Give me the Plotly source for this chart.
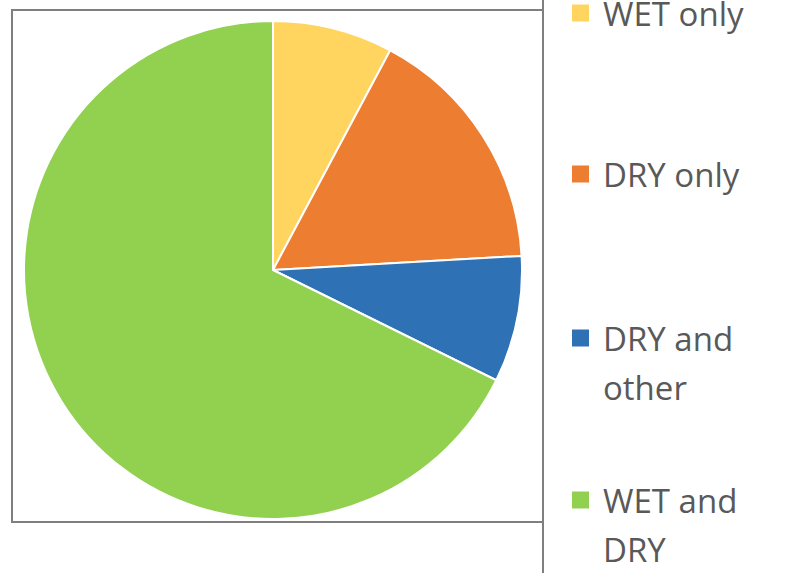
import plotly.graph_objects as go

# Share of samples by collection type (percent)
categories = ["WET only", "DRY only", "DRY and other", "WET and DRY"]
shares = [7.8, 16.3, 8.2, 67.7]
colors = ["#FFD45F", "#ED7D31", "#2E71B5", "#92D050"]
legend_lines = [["WET only"], ["DRY only"], ["DRY and", "other"], ["WET and", "DRY"]]

W, H = 791, 573


def px(x):
    return x / W


def py(y):
    return 1 - y / H


fig = go.Figure(
    go.Pie(
        labels=categories,
        values=shares,
        sort=False,
        direction="clockwise",
        rotation=0,
        textinfo="none",
        hoverinfo="label+percent",
        marker=dict(colors=colors, line=dict(color="white", width=2)),
        domain=dict(x=[px(24), px(522)], y=[py(519), py(21)]),
        showlegend=False,
    )
)

shapes = [
    # frame around the plot area
    dict(type="rect", xref="paper", yref="paper",
         x0=px(12), x1=px(543), y0=py(522), y1=py(10),
         line=dict(color="#7F7F7F", width=2)),
    # divider running the full height beside the legend
    dict(type="line", xref="paper", yref="paper",
         x0=px(543), x1=px(543), y0=0, y1=1,
         line=dict(color="#7F7F7F", width=2)),
]

annotations = []
row_top = [13, 174, 338, 500]
for lines, color, yc in zip(legend_lines, colors, row_top):
    shapes.append(dict(type="rect", xref="paper", yref="paper",
                       x0=px(572), x1=px(589), y0=py(yc + 8.5), y1=py(yc - 8.5),
                       fillcolor=color, line=dict(width=0)))
    for i, line in enumerate(lines):
        annotations.append(dict(
            text=line, xref="paper", yref="paper",
            x=px(601), y=py(yc + i * 49), xanchor="left", yanchor="middle",
            showarrow=False,
            font=dict(family="Open Sans", size=33, color="#595959"),
        ))

fig.update_layout(
    width=W, height=H,
    margin=dict(l=0, r=0, t=0, b=0),
    paper_bgcolor="white",
    plot_bgcolor="white",
    shapes=shapes,
    annotations=annotations,
)

fig.write_html("out.html")
